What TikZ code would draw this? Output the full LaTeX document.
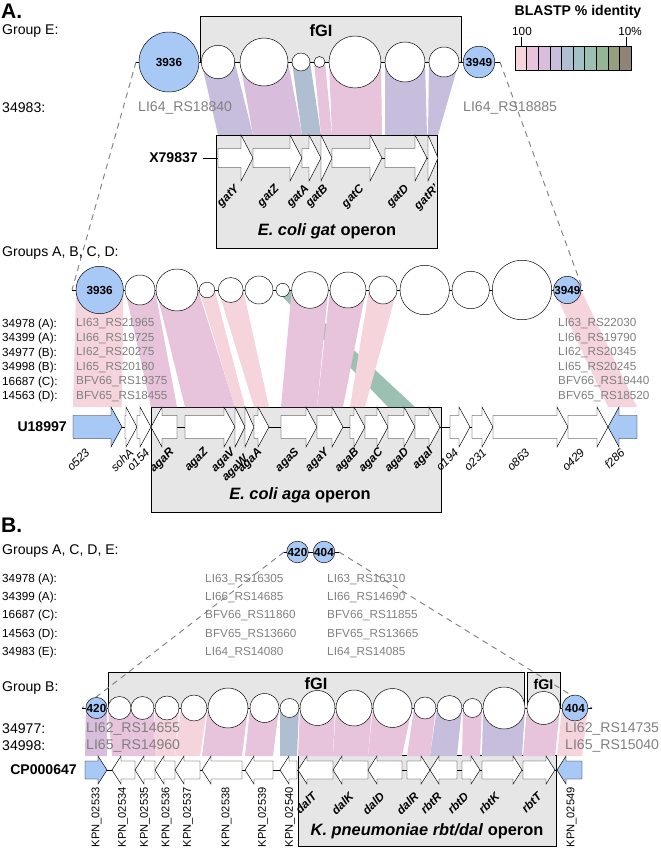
\documentclass[tikz,border=0pt]{standalone}
\usepackage{fontspec}
\setmainfont{Liberation Sans}
\usetikzlibrary{calc}

\pgfdeclarelayer{boxes}
\pgfdeclarelayer{bands}
\pgfsetlayers{boxes,bands,main}

\definecolor{id1}{RGB}{246,212,220}
\definecolor{id2}{RGB}{232,196,220}
\definecolor{id3}{RGB}{216,190,220}
\definecolor{id4}{RGB}{198,190,220}
\definecolor{id5}{RGB}{176,190,210}
\definecolor{id6}{RGB}{162,194,198}
\definecolor{id7}{RGB}{156,192,178}
\definecolor{id8}{RGB}{150,180,150}
\definecolor{id9}{RGB}{150,158,128}
\definecolor{id10}{RGB}{144,132,118}
\definecolor{hitblue}{RGB}{168,200,246}
\definecolor{boxgray}{RGB}{230,230,230}
\definecolor{idgray}{RGB}{128,128,128}

\newcommand{\fsz}[1]{\fontsize{#1}{#1}\selectfont}
% gene arrows: body half height, head half height, head length
\def\bh{9.5}\def\hh{23}\def\hl{12}
\newcommand{\fgene}[5][orf]{%
  \pgfmathsetmacro\hb{max(#3,#4-\hl)}%
  \draw[#1] (#3,#5-\bh) -- (\hb,#5-\bh) -- (\hb,#5-\hh) -- (#4,#5) -- (\hb,#5+\hh) -- (\hb,#5+\bh) -- (#3,#5+\bh) -- cycle;
  \coordinate (#2-l) at (#3,#5-\hh);
  \coordinate (#2-r) at (#4,#5-\hh);}
\newcommand{\rgene}[5][orf]{%
  \pgfmathsetmacro\hb{min(#4,#3+\hl)}%
  \draw[#1] (#4,#5-\bh) -- (\hb,#5-\bh) -- (\hb,#5-\hh) -- (#3,#5) -- (\hb,#5+\hh) -- (\hb,#5+\bh) -- (#4,#5+\bh) -- cycle;
  \coordinate (#2-l) at (#3,#5-\hh);
  \coordinate (#2-r) at (#4,#5-\hh);}
\newcommand{\band}[3]{\fill[#3] (#1.west) -- (#1.east) -- (#2-r) -- (#2-l) -- cycle;}

\begin{document}
\begin{tikzpicture}[x=0.03cm, y=-0.03cm,
  lab/.style={anchor=west, inner sep=0pt, font=\fsz{12}},
  smlab/.style={anchor=west, inner sep=0pt, font=\fsz{10}},
  idlab/.style={anchor=west, inner sep=0pt, text=idgray, font=\fsz{12}},
  smid/.style={anchor=west, inner sep=0pt, text=idgray, font=\fsz{10}},
  acc/.style={anchor=east, inner sep=0pt, font=\bfseries\fsz{12}},
  gc/.style={circle, draw, fill=white, inner sep=0pt, outer sep=0pt, minimum size=#1*0.06cm},
  hit/.style={gc=#1, fill=hitblue, font=\bfseries\fsz{10}},
  orf/.style={draw, fill=white},
  orfhit/.style={draw, fill=hitblue},
  opbox/.style={draw, fill=boxgray},
  gl/.style={rotate=45, anchor=east, inner sep=0.5pt, font=\bfseries\itshape\fsz{10}},
  ol/.style={rotate=45, anchor=east, inner sep=0.5pt, font=\itshape\fsz{10}},
  kl/.style={rotate=90, anchor=east, inner sep=0pt, font=\fsz{9.5}},
  link/.style={draw=idgray, thick, dash pattern=on 5pt off 4pt}]
\useasboundingbox (0,0) rectangle (660,850);

% ---------------- A: group E and gat operon
\node[anchor=west, inner sep=0pt, font=\bfseries\fsz{18}] (pa) at (1,11) {A.};
\node[lab] (grpe) at (2,31) {Group E:};
\node[lab] (s34983) at (2,108) {34983:};
\node[idlab] (e18840) at (138,108) {LI64\_RS18840};
\node[idlab] (e18885) at (463,108) {LI64\_RS18885};

\begin{pgfonlayer}{boxes}
  \draw[opbox] (200,16) rectangle (461,62);
  \draw[opbox] (216,135) rectangle (437,248);
  \draw[opbox] (151,407) rectangle (441,512);
  \draw[opbox] (108,672) rectangle (524,708);
  \draw[opbox] (527,672) rectangle (560,708);
  \draw[opbox] (298,755) rectangle (556,846);
\end{pgfonlayer}
\node[font=\bfseries\fsz{14}] (fgie) at (321,31) {fGI};

\coordinate (eL) at (136,62);
\coordinate (eR) at (500,62);
\draw (eL) -- (eR);
\node[hit=30] (e3936) at (169,62) {3936};
\foreach \n/\x/\r in {e1/218/16.7, e2/264/24, e3/301/9, e4/319.5/5.5, e5/355/26, e6/405/20, e7/444/15}
  \node[gc=\r] (\n) at (\x,62) {};
\node[hit=15.8] (e3949) at (479,62) {3949};

% legend
\node[font=\bfseries\fsz{12}] (legt) at (578,12) {BLASTP \% identity};
\node[font=\fsz{10}] (l100) at (522,31) {100};
\node[font=\fsz{10}] (l10) at (630,31) {10\%};
\draw (521,37) -- (521,46) (626,37) -- (626,46);
\foreach \c [count=\i from 0] in {id1,id2,id3,id4,id5,id6,id7,id8,id9,id10}
  \draw[fill=\c] (515+\i*11.6,46) rectangle +(11.6,24);

% gat operon
\node[acc] (x79837) at (198,158) {X79837};
\coordinate (gatst) at (203,158);
\coordinate (gatend) at (437,158);
\draw (gatst) -- (gatend);
\fgene{gY}{218}{253}{158}
\fgene{gZ}{253}{302}{158}
\fgene{gA}{302}{321}{158}
\fgene{gB}{321}{332}{158}
\fgene{gC}{332}{382}{158}
\fgene{gD}{385}{427}{158}
\fgene{gR}{428}{438}{158}
\foreach \x/\t [count=\i] in {238/gatY, 278/gatZ, 308/gatA, 327/gatB, 363/gatC, 408/gatD, 438/gatR'}
  \node[gl] (gatl\i) at (\x,187) {\t};
\node[font=\bfseries\fsz{14}] (gatop) at (327,231) {\textit{E. coli gat} operon};

\begin{pgfonlayer}{bands}
  \band{e1}{gY}{id4}
  \band{e2}{gZ}{id3}
  \band{e3}{gA}{id5}
  \band{e4}{gB}{id2}
  \band{e5}{gC}{id2}
  \band{e6}{gD}{id4}
  \band{e7}{gR}{id4}
\end{pgfonlayer}

% ---------------- A: groups A-D and aga operon
\node[lab] (grpad) at (2,253) {Groups A, B, C, D:};
\coordinate (aL) at (72,290);
\coordinate (aR) at (583,290);
\draw (aL) -- (aR);
\node[hit=23.7] (a3936) at (99.7,290) {3936};
\foreach \n/\x/\r in {a1/140/15, a2/177/21, a3/207/7.8, a4/230.7/12.5, a5/259/14, a6/282.7/6.7,
    a7/310/18.3, a8/348/18, a9/383/14, a10/424.7/24.7, a11/470.7/18.7, a12/522/29.7}
  \node[gc=\r] (\n) at (\x,290) {};
\node[hit=13.3] (a3949) at (567.3,290) {3949};

\foreach \s/\l/\r [count=\i] in {34978 (A):/LI63\_RS21965/LI63\_RS22030,
    34399 (A):/LI66\_RS19725/LI66\_RS19790, 34977 (B):/LI62\_RS20275/LI62\_RS20345,
    34998 (B):/LI65\_RS20180/LI65\_RS20245, 16687 (C):/BFV66\_RS19375/BFV66\_RS19440,
    14563 (D):/BFV65\_RS18455/BFV65\_RS18520} {
  \node[smlab] (as\i) at (2,{309.5+\i*14.5}) {\s};
  \node[smid] (al\i) at (76,{309.5+\i*14.5}) {\l};
  \node[smid] (ar\i) at (558,{309.5+\i*14.5}) {\r};
}

\begin{pgfonlayer}{bands}
  \draw[link] (eL) -- (aL);
  \draw[link] (eR) -- (aR);
\end{pgfonlayer}

\def\bh{11.5}\def\hh{20}\def\hl{11}
\node[acc] (u18997) at (67,427) {U18997};
\coordinate (ust) at (73,427);
\coordinate (uend) at (637,427);
\draw (ust) -- (uend);
\fgene[orfhit]{o523}{73}{122}{427}
\fgene{sohA}{125}{137}{427}
\fgene{o154}{137}{151}{427}
\rgene{agaR}{151}{177}{427}
\fgene{agaZ}{185}{235}{427}
\fgene{agaV}{235}{245}{427}
\fgene{agaW}{245}{254}{427}
\fgene{agaA}{254}{269}{427}
\fgene{agaS}{281}{317}{427}
\fgene{agaY}{317}{343}{427}
\fgene{agaB}{350}{365}{427}
\fgene{agaC}{365}{388}{427}
\fgene{agaD}{388}{415}{427}
\fgene{agaI}{415}{440}{427}
\fgene{o194}{450}{470}{427}
\fgene{o231}{472}{493}{427}
\fgene{o863}{493}{568}{427}
\fgene{o429}{568}{608}{427}
\rgene[orfhit]{f286}{608}{637}{427}
\foreach \x/\t [count=\i] in {88/o523, 132/sohA, 148/o154, 457/o194, 485/o231, 528/o863, 583/o429, 623/f286}
  \node[ol] (ol\i) at (\x,450) {\t};
\foreach \x/\y/\t [count=\i] in {173/450/agaR, 207/450/agaZ, 234/450/agaV, 247/457/agaW, 261/450/agaA,
    298/450/agaS, 328/450/agaY, 358/450/agaB, 382/450/agaC, 408/450/agaD, 432/450/agaI}
  \node[gl] (agal\i) at (\x,\y) {\t};
\node[font=\bfseries\fsz{14}] (agaop) at (300,495) {\textit{E. coli aga} operon};

\begin{pgfonlayer}{bands}
  \band{a3936}{o523}{id1}
  \band{a1}{agaR}{id2}
  \band{a2}{agaZ}{id2}
  \band{a3}{agaV}{id1}
  \band{a4}{agaA}{id1}
  \band{a6}{agaD}{id7}
  \band{a7}{agaS}{id2}
  \band{a8}{agaY}{id2}
  \band{a9}{agaB}{id1}
  \band{a3949}{f286}{id1}
\end{pgfonlayer}

% ---------------- B: rbt/dal region
\node[anchor=west, inner sep=0pt, font=\bfseries\fsz{18}] (pb) at (1,525) {B.};
\node[lab] (grpacde) at (2,551) {Groups A, C, D, E:};
\coordinate (tL) at (284,552);
\coordinate (tR) at (339,552);
\draw (tL) -- (tR);
\node[hit=10.8] (t420) at (297.5,552) {420};
\node[hit=10.8] (t404) at (324,552) {404};

\foreach \s/\l/\r [count=\i] in {34978 (A):/LI63\_RS16305/LI63\_RS16310,
    34399 (A):/LI66\_RS14685/LI66\_RS14690, 16687 (C):/BFV66\_RS11860/BFV66\_RS11855,
    14563 (D):/BFV65\_RS13660/BFV65\_RS13665, 34983 (E):/LI64\_RS14080/LI64\_RS14085} {
  \node[smlab] (bs\i) at (2,{561+\i*18.3}) {\s};
  \node[smid] (bl\i) at (205,{561+\i*18.3}) {\l};
  \node[smid] (br\i) at (327,{561+\i*18.3}) {\r};
}

\node[lab] (grpb) at (2,688) {Group B:};
\node[font=\bfseries\fsz{14}] (fgib) at (316,684) {fGI};
\node[font=\bfseries\fsz{12}] (fgis) at (543.5,684) {fGI};
\coordinate (bL) at (82,708);
\coordinate (bR) at (592,708);
\draw (bL) -- (bR);
\node[hit=10.5] (b420) at (96.5,708) {420};
\foreach \n/\x/\r in {b1/119.5/11.5, b2/142.5/11.5, b3/167/12, b4/194/13, b5/228/20, b6/264.5/14.5,
    b7/289.5/9.5, b8/317.5/17.5, b9/354/18, b10/392.5/19.5, b11/425/11, b12/449.5/12.5,
    b13/472.5/9.5, b14/504/21, b15/543.5/16.5}
  \node[gc=\r] (\n) at (\x,708) {};
\node[hit=13] (b404) at (575,708) {404};

\node[lab] (s34977) at (2,729) {34977:};
\node[lab] (s34998) at (2,746) {34998:};
\node[idlab] (b14655) at (86,729) {LI62\_RS14655};
\node[idlab] (b14960) at (86,746) {LI65\_RS14960};
\node[idlab] (b14735) at (565,729) {LI62\_RS14735};
\node[idlab] (b15040) at (565,746) {LI65\_RS15040};

\begin{pgfonlayer}{bands}
  \draw[link] (tL) -- (bL);
  \draw[link] (tR) -- (bR);
\end{pgfonlayer}

\def\bh{9}\def\hh{14}\def\hl{9}
\node[acc] (cp647) at (77,770) {CP000647};
\coordinate (kst) at (85,770);
\coordinate (kend) at (582,770);
\draw (kst) -- (kend);
\fgene[orfhit]{k33}{85}{107}{770}
\rgene{k34}{112}{135}{770}
\rgene{k35}{135}{155}{770}
\rgene{k36}{155}{175}{770}
\rgene{k37}{175}{200}{770}
\rgene{k38}{202}{242}{770}
\rgene{k39}{245}{273}{770}
\rgene{k40}{280}{297}{770}
\rgene{dalT}{298}{333}{770}
\rgene{dalK}{333}{368}{770}
\rgene{dalD}{368}{402}{770}
\fgene{dalR}{407}{430}{770}
\rgene{rbtR}{430}{457}{770}
\fgene{rbtD}{462}{480}{770}
\fgene{rbtK}{482}{522}{770}
\fgene{rbtT}{523}{555}{770}
\rgene[orfhit]{k49}{557}{582}{770}
\foreach \x/\t [count=\i] in {96.7/KPN\_02533, 123/KPN\_02534, 145/KPN\_02535, 166.7/KPN\_02536,
    188/KPN\_02537, 226.7/KPN\_02538, 263/KPN\_02539, 290/KPN\_02540, 571.7/KPN\_02549}
  \node[kl] (kl\i) at (\x,787) {\t};
\foreach \x/\t [count=\i] in {315/dalT, 352/dalK, 383/dalD, 417/dalR, 440/rbtR, 467/rbtD, 498/rbtK, 540/rbtT}
  \node[gl] (rdl\i) at (\x,794) {\t};
\node[font=\bfseries\fsz{14}] (rbtop) at (427,831) {\textit{K. pneumoniae rbt/dal} operon};

\begin{pgfonlayer}{bands}
  \band{b420}{k33}{id3}
  \band{b1}{k34}{id2}
  \band{b2}{k35}{id2}
  \band{b3}{k36}{id1}
  \band{b4}{k37}{id1}
  \band{b5}{k38}{id2}
  \band{b6}{k39}{id2}
  \band{b7}{k40}{id5}
  \band{b8}{dalT}{id2}
  \band{b9}{dalK}{id2}
  \band{b10}{dalD}{id2}
  \band{b11}{dalR}{id2}
  \band{b12}{rbtR}{id4}
  \band{b13}{rbtD}{id2}
  \band{b14}{rbtK}{id4}
  \band{b15}{rbtT}{id2}
  \band{b404}{k49}{id1}
\end{pgfonlayer}
\end{tikzpicture}
\end{document}
